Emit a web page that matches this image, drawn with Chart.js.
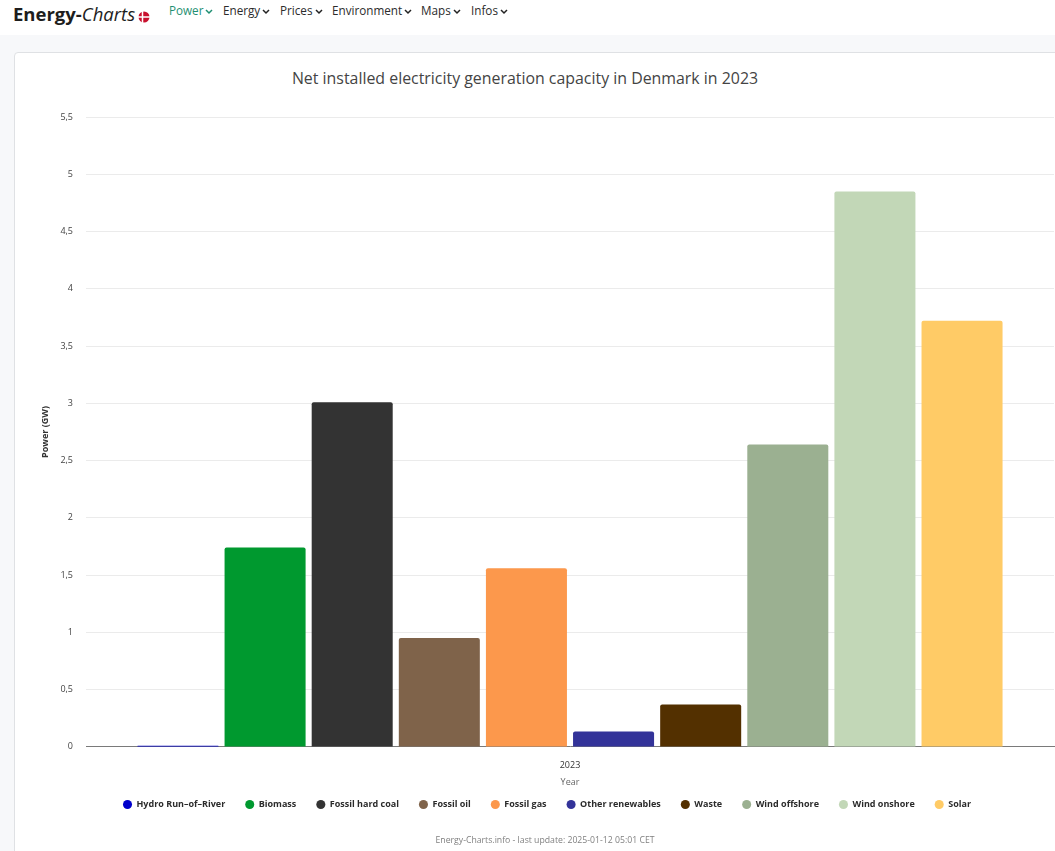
<!DOCTYPE html>
<html>
<head>
<meta charset="utf-8">
<title>Net installed electricity generation capacity in Denmark in 2023</title>
<script src="https://cdn.jsdelivr.net/npm/chart.js@4"></script>
<style>
    html, body { margin: 0; padding: 0; width: 1055px; height: 851px; overflow: hidden; background: #f7f8fa; font-family: "Open Sans", sans-serif; }
    .nav { position: absolute; left: 0; top: 0; width: 1055px; height: 35px; background: #fff; }
    .logo { position: absolute; left: 13px; top: 1px; font-size: 18.5px; line-height: 26px; color: #1d1d1d; font-family: "Open Sans", sans-serif; font-weight: 700; }
    .logo i { font-weight: 400; }
    .flag { position: absolute; left: 138px; top: 11px; }
    .nav a { position: absolute; top: 1px; font-size: 11.7px; line-height: 18px; color: #2b2b2b; }
    .nav a.on { color: #1f8f72; }
    .nav a svg { margin-left: 2px; }
    .card { position: absolute; left: 14px; top: 52px; width: 1060px; height: 820px; background: #fff; border: 1px solid #dfe1e4; border-radius: 4px; box-sizing: border-box; }
    #canvas { position: absolute; left: 15px; top: 53px; }
    .title { position: absolute; left: 0; width: 1050px; top: 67px; text-align: center; font-size: 15.9px; line-height: 22px; color: #444; }
    .foot { position: absolute; left: 0; width: 1090px; top: 833px; text-align: center; font-size: 8.7px; line-height: 14px; color: #808080; }
</style>
</head>
<body>
<div class="nav">
    <div class="logo">Energy-<i>Charts</i></div>
    <svg class="flag" width="12" height="12" viewBox="0 0 12 12"><circle cx="6" cy="6" r="5.5" fill="#c8102e"/><path d="M0 6H12M4.5 0V12" stroke="#fff" stroke-width="1.5"/></svg>
    <a class="on" style="left:169px">Power<svg width="8" height="6" viewBox="0 0 8 6"><path d="M1 1L4 4L7 1" fill="none" stroke="#1f8f72" stroke-width="1.5"/></svg></a>
    <a style="left:223px">Energy<svg width="8" height="6" viewBox="0 0 8 6"><path d="M1 1L4 4L7 1" fill="none" stroke="#222" stroke-width="1.5"/></svg></a>
    <a style="left:280px">Prices<svg width="8" height="6" viewBox="0 0 8 6"><path d="M1 1L4 4L7 1" fill="none" stroke="#222" stroke-width="1.5"/></svg></a>
    <a style="left:332px">Environment<svg width="8" height="6" viewBox="0 0 8 6"><path d="M1 1L4 4L7 1" fill="none" stroke="#222" stroke-width="1.5"/></svg></a>
    <a style="left:421px">Maps<svg width="8" height="6" viewBox="0 0 8 6"><path d="M1 1L4 4L7 1" fill="none" stroke="#222" stroke-width="1.5"/></svg></a>
    <a style="left:471px">Infos<svg width="8" height="6" viewBox="0 0 8 6"><path d="M1 1L4 4L7 1" fill="none" stroke="#222" stroke-width="1.5"/></svg></a>
</div>
<div class="card"></div>
<div class="title">Net installed electricity generation capacity in Denmark in 2023</div>
<canvas id="canvas" width="1062" height="798" style="width:1062px;height:798px"></canvas>
<div class="foot">Energy-Charts.info - last update: 2025-01-12 05:01 CET</div>
<script>
const years = ['2023'];
const sources = ['Hydro Run–of–River', 'Biomass', 'Fossil hard coal', 'Fossil oil', 'Fossil gas', 'Other renewables', 'Waste', 'Wind offshore', 'Wind onshore', 'Solar'];
const capacity = [0.01, 1.74, 3.01, 0.95, 1.56, 0.135, 0.37, 2.64, 4.85, 3.72];
const colors = ['#0000cc', '#00992f', '#333333', '#7f634a', '#fc984c', '#333399', '#533000', '#9bb091', '#c2d7b7', '#ffcb66'];
const tickLabels = ['0', '0,5', '1', '1,5', '2', '2,5', '3', '3,5', '4', '4,5', '5', '5,5'];

const ctx = document.getElementById('canvas').getContext('2d');
let datasets = [];
sources.forEach((name, i) => {
    datasets.push({
        label: name,
        data: [capacity[i]],
        backgroundColor: colors[i],
        borderRadius: 2,
        borderSkipped: 'bottom',
        barPercentage: 0.93,
        categoryPercentage: 0.9
    });
});

new Chart(ctx, {
    type: 'bar',
    data: { labels: years, datasets: datasets },
    options: {
        responsive: false,
        animation: false,
        layout: { padding: { top: 64, right: 23, bottom: 32, left: 25 } },
        plugins: {
            title: { display: false },
            tooltip: { enabled: false },
            legend: {
                position: 'bottom',
                labels: {
                    usePointStyle: true,
                    pointStyle: 'circle',
                    boxHeight: 6.4,
                    boxWidth: 9,
                    padding: 20,
                    color: '#2b2b2b',
                    font: { family: '"Open Sans", sans-serif', size: 9, weight: 'bold' }
                }
            }
        },
        scales: {
            x: {
                grid: { display: false },
                border: { color: '#7a7a7a', width: 1 },
                ticks: { color: '#333', font: { family: '"Open Sans", sans-serif', size: 9 }, padding: 5.5 },
                title: { display: true, text: 'Year', color: '#666', font: { family: '"Open Sans", sans-serif', size: 9 }, padding: { top: 0.5, bottom: -8 } }
            },
            y: {
                min: 0,
                max: 5.5,
                afterFit: (scale) => { scale.width = 46; },
                grid: { color: '#ebebeb', drawTicks: false },
                border: { display: false },
                ticks: {
                    stepSize: 0.5,
                    padding: 13,
                    color: '#444',
                    font: { family: '"Open Sans", sans-serif', size: 9 },
                    callback: (value, index) => tickLabels[index]
                },
                title: { display: true, text: 'Power (GW)', color: '#333', font: { family: '"Open Sans", sans-serif', size: 9, weight: 'bold' }, padding: { top: 0, bottom: 0 } }
            }
        }
    }
});
</script>
</body>
</html>
